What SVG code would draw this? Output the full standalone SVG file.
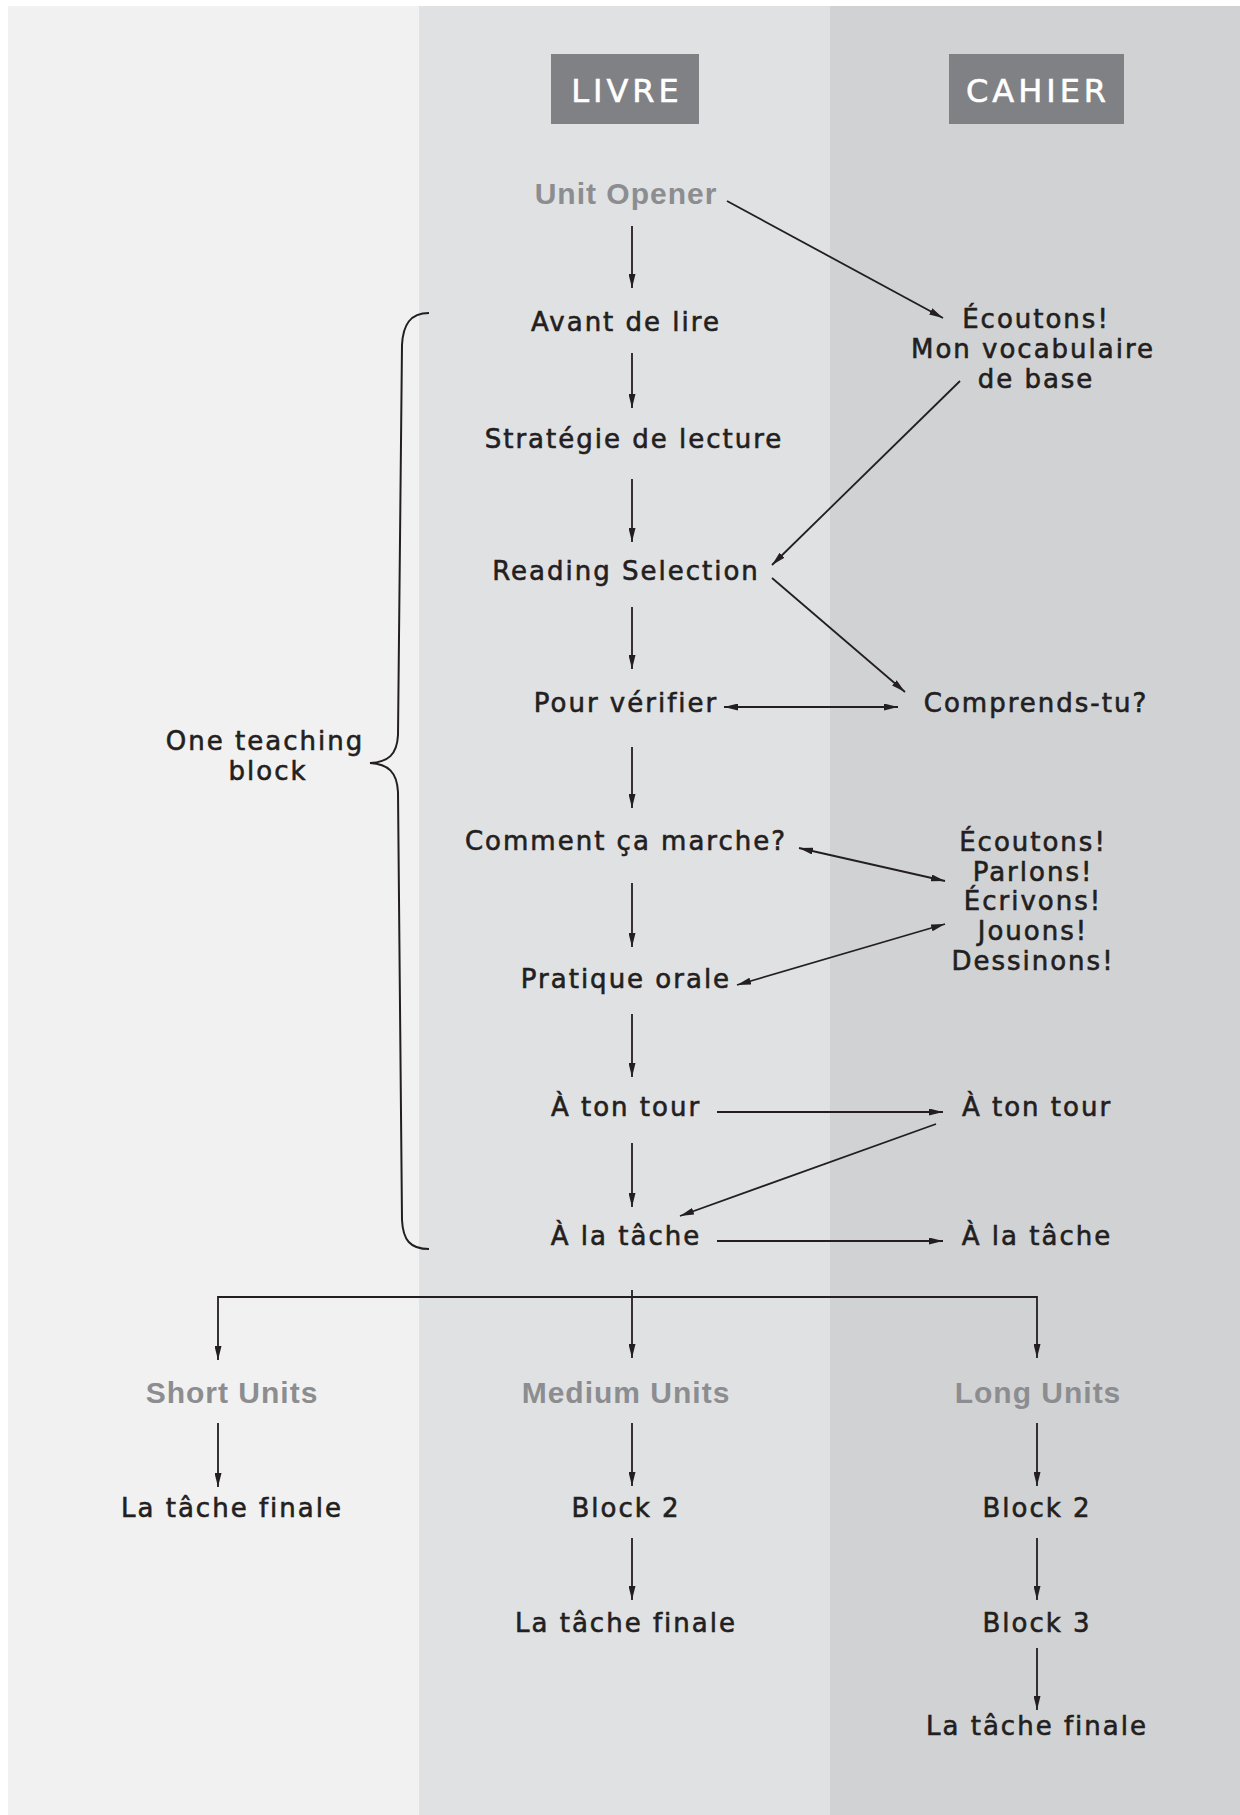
<svg xmlns="http://www.w3.org/2000/svg" width="1240" height="1815" viewBox="0 0 1240 1815">
<defs>
<marker id="ah" viewBox="0 0 14 7" refX="14" refY="3.5" markerWidth="14" markerHeight="7" markerUnits="userSpaceOnUse" orient="auto-start-reverse"><path d="M0,0 L14,3.5 L0,7 z" fill="#231f20"/></marker>
<style>
.t{font-family:"DejaVu Sans","Liberation Sans",sans-serif;font-size:26px;letter-spacing:2px;fill:#231f20;stroke:#231f20;stroke-width:0.6;text-anchor:middle}
.g{font-family:"Liberation Sans","Arial",sans-serif;font-weight:bold;font-size:30px;letter-spacing:1px;fill:#8c8d90;text-anchor:middle}
.h{font-family:"DejaVu Sans","Liberation Sans",sans-serif;font-size:32px;letter-spacing:4px;fill:#ffffff;stroke:#ffffff;stroke-width:0.6;text-anchor:middle}
.hb{fill:#808184}
.c line,.c path{stroke:#231f20;stroke-width:1.8;fill:none}
.a{marker-end:url(#ah)}
.d{marker-start:url(#ah);marker-end:url(#ah)}
</style>
</defs>
<rect x="0" y="0" width="1240" height="1815" fill="#ffffff"/>
<rect x="8" y="6" width="411" height="1809" fill="#f1f1f1"/>
<rect x="419" y="6" width="411" height="1809" fill="#e0e1e3"/>
<rect x="830" y="6" width="410" height="1809" fill="#d1d2d4"/>

<g id="hdr-livre"><rect class="hb" x="551" y="54" width="148" height="70"/><text class="h" x="627" y="102">LIVRE</text></g>
<g id="hdr-cahier"><rect class="hb" x="949" y="54" width="175" height="70"/><text class="h" x="1038" y="102">CAHIER</text></g>

<g id="unit-opener"><text class="g" x="626" y="204">Unit Opener</text></g>
<g id="avant-de-lire"><text class="t" x="626" y="331">Avant de lire</text></g>
<g id="strategie"><text class="t" x="634" y="448">Stratégie de lecture</text></g>
<g id="reading-selection"><text class="t" x="626" y="580">Reading Selection</text></g>
<g id="pour-verifier"><text class="t" x="626" y="712">Pour vérifier</text></g>
<g id="comprends-tu"><text class="t" x="1036" y="712">Comprends-tu?</text></g>
<g id="ecoutons-vocab"><text class="t" x="1036" y="328">Écoutons!</text><text class="t" x="1033" y="358">Mon vocabulaire</text><text class="t" x="1036" y="388">de base</text></g>
<g id="comment"><text class="t" x="626" y="850">Comment ça marche?</text></g>
<g id="pratique"><text class="t" x="626" y="988">Pratique orale</text></g>
<g id="activites"><text class="t" x="1033" y="851">Écoutons!</text><text class="t" x="1033" y="881">Parlons!</text><text class="t" x="1033" y="910">Écrivons!</text><text class="t" x="1033" y="940">Jouons!</text><text class="t" x="1033" y="970">Dessinons!</text></g>
<g id="ton-tour-livre"><text class="t" x="626" y="1116">À ton tour</text></g>
<g id="ton-tour-cahier"><text class="t" x="1037" y="1116">À ton tour</text></g>
<g id="tache-livre"><text class="t" x="626" y="1245">À la tâche</text></g>
<g id="tache-cahier"><text class="t" x="1037" y="1245">À la tâche</text></g>

<g id="teaching-block">
<path d="M429,313 C410,313 403,325 402,345 L398,735 C397,755 388,762 370,763 C388,764 397,772 398,792 L402,1220 C403,1240 410,1249 429,1249" fill="none" stroke="#231f20" stroke-width="2"/>
<text class="t" x="265" y="750">One teaching</text><text class="t" x="268" y="780">block</text>
</g>

<g id="short-units"><text class="g" x="232" y="1403">Short Units</text></g>
<g id="medium-units"><text class="g" x="626" y="1403">Medium Units</text></g>
<g id="long-units"><text class="g" x="1038" y="1403">Long Units</text></g>
<g id="finale-short"><text class="t" x="232" y="1517">La tâche finale</text></g>
<g id="block2-medium"><text class="t" x="626" y="1517">Block 2</text></g>
<g id="finale-medium"><text class="t" x="626" y="1632">La tâche finale</text></g>
<g id="block2-long"><text class="t" x="1037" y="1517">Block 2</text></g>
<g id="block3-long"><text class="t" x="1037" y="1632">Block 3</text></g>
<g id="finale-long"><text class="t" x="1037" y="1735">La tâche finale</text></g>

<g id="connectors" class="c">
<line class="a" x1="632" y1="226" x2="632" y2="288"/>
<line class="a" x1="632" y1="353" x2="632" y2="408"/>
<line class="a" x1="632" y1="479" x2="632" y2="542"/>
<line class="a" x1="632" y1="607" x2="632" y2="669"/>
<line class="a" x1="632" y1="747" x2="632" y2="808"/>
<line class="a" x1="632" y1="883" x2="632" y2="947"/>
<line class="a" x1="632" y1="1014" x2="632" y2="1077"/>
<line class="a" x1="632" y1="1143" x2="632" y2="1207"/>
<line class="a" x1="727" y1="201" x2="943" y2="318"/>
<line class="a" x1="960" y1="381" x2="772" y2="565"/>
<line class="a" x1="772" y1="578" x2="905" y2="692"/>
<line class="d" x1="724" y1="707" x2="898" y2="707"/>
<line class="d" x1="799" y1="848" x2="945" y2="881"/>
<line class="d" x1="737" y1="985" x2="945" y2="924"/>
<line class="a" x1="717" y1="1112" x2="943" y2="1112"/>
<line class="a" x1="936" y1="1124" x2="680" y2="1216"/>
<line class="a" x1="717" y1="1241" x2="943" y2="1241"/>
<path d="M218,1297 H1037"/>
<line class="a" x1="218" y1="1296" x2="218" y2="1360"/>
<line class="a" x1="632" y1="1290" x2="632" y2="1358"/>
<line class="a" x1="1037" y1="1296" x2="1037" y2="1358"/>
<line class="a" x1="218" y1="1423" x2="218" y2="1487"/>
<line class="a" x1="632" y1="1423" x2="632" y2="1486"/>
<line class="a" x1="1037" y1="1423" x2="1037" y2="1486"/>
<line class="a" x1="632" y1="1538" x2="632" y2="1600"/>
<line class="a" x1="1037" y1="1538" x2="1037" y2="1600"/>
<line class="a" x1="1037" y1="1648" x2="1037" y2="1710"/>
</g>
</svg>
